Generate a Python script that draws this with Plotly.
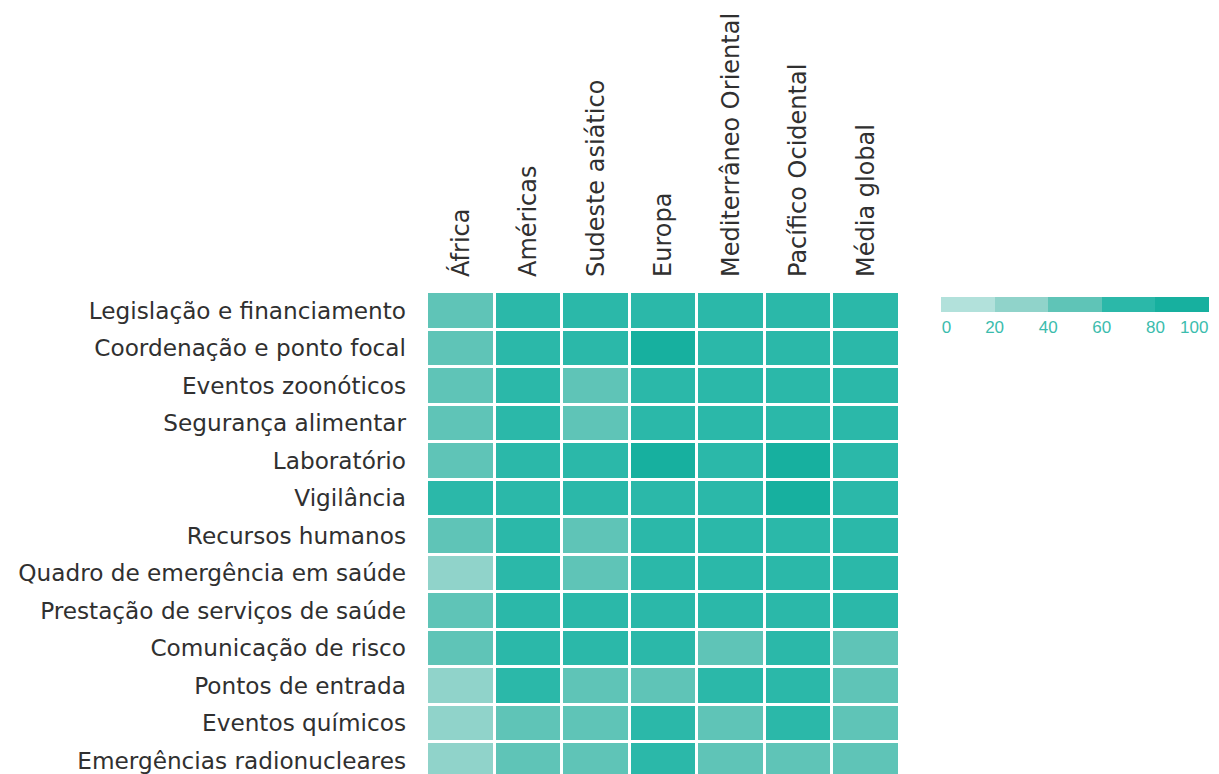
import plotly.graph_objects as go

regions = ["África", "Américas", "Sudeste asiático", "Europa",
           "Mediterrâneo Oriental", "Pacífico Ocidental", "Média global"]

capacities = ["Legislação e financiamento", "Coordenação e ponto focal",
              "Eventos zoonóticos", "Segurança alimentar", "Laboratório",
              "Vigilância", "Recursos humanos", "Quadro de emergência em saúde",
              "Prestação de serviços de saúde", "Comunicação de risco",
              "Pontos de entrada", "Eventos químicos", "Emergências radionucleares"]

# scores (0-100) per capacity (rows) x region (columns)
africa        = [50, 50, 50, 50, 50, 70, 50, 35, 50, 50, 35, 35, 35]
americas      = [70, 70, 70, 70, 70, 70, 70, 70, 70, 70, 72, 50, 50]
sudeste       = [70, 70, 50, 50, 70, 70, 50, 50, 70, 70, 50, 50, 50]
europa        = [70, 85, 70, 70, 85, 70, 70, 70, 70, 70, 50, 70, 70]
mediterraneo  = [70, 70, 70, 70, 70, 70, 70, 70, 70, 50, 72, 50, 50]
pacifico      = [70, 70, 70, 70, 85, 85, 70, 70, 70, 70, 70, 70, 50]
media_global  = [70, 70, 70, 70, 70, 70, 70, 70, 70, 50, 50, 50, 50]

legend_ticks = ["0", "20", "40", "60", "80", "100"]
legend_tick_pos = [2, 20, 40, 60, 80, 94.5]

columns = [africa, americas, sudeste, europa, mediterraneo, pacifico, media_global]
z = [[col[i] for col in columns] for i in range(len(capacities))]

c1, c2, c3, c4, c5 = "#b2e1db", "#90d3ca", "#5fc4b7", "#2bb8a9", "#17b09f"
colorscale = [[0.0, c1], [0.2, c1], [0.2, c2], [0.4, c2], [0.4, c3],
              [0.6, c3], [0.6, c4], [0.8, c4], [0.8, c5], [1.0, c5]]

off = 8  # page body margin offset
W, H = 1219 - off, 774
left, right, top, bottom = 427 - off, 900 - off, 292 - off, H
pitch = 37.5
plot_w = right - left
plot_h = bottom - top
nrows_visible = plot_h / pitch

fig = go.Figure(go.Heatmap(
    z=z, x=regions, y=capacities,
    zmin=0, zmax=100,
    colorscale=colorscale,
    xgap=3, ygap=3,
    colorbar=dict(
        orientation="h",
        x=(941 - off - left) / plot_w, xanchor="left",
        y=(bottom - (297 - off)) / plot_h, yanchor="top",
        len=268, lenmode="pixels",
        thickness=15,
        xpad=0, ypad=0,
        outlinewidth=0,
        ticks="",
        tickvals=legend_tick_pos,
        ticktext=legend_ticks,
        tickfont=dict(family="Liberation Sans, Arial", size=17, color="#3bbcad"),
    ),
    hoverinfo="skip",
))

font_family = "'DejaVu Sans', sans-serif"
text_color = "#303030"

fig.update_layout(
    width=W, height=H,
    margin=dict(l=left, r=W - right, t=top, b=0, pad=0, autoexpand=False),
    paper_bgcolor="white", plot_bgcolor="white",
    font=dict(family=font_family, size=20, color=text_color),
    xaxis=dict(side="top", tickangle=-90, showgrid=False, zeroline=False,
               showline=False, ticks="", ticklabelstandoff=14, automargin=False,
               tickfont=dict(size=24, color=text_color), fixedrange=True),
    yaxis=dict(range=[-0.5 + nrows_visible, -0.5], showgrid=False,
               zeroline=False, showline=False, ticks="",
               ticklabelstandoff=20, automargin=False,
               tickfont=dict(size=23.2, color=text_color), fixedrange=True),
)

fig.write_html("out.html")
